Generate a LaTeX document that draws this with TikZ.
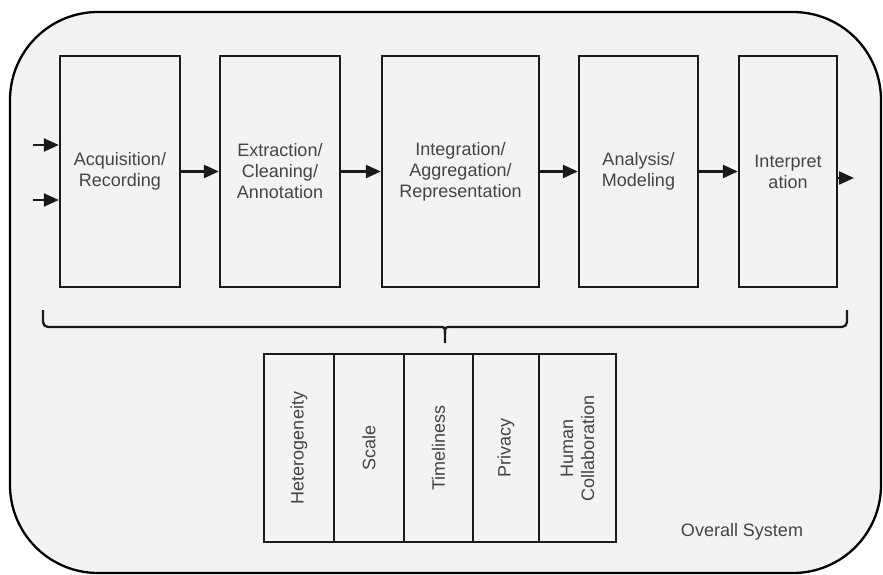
\documentclass[tikz,border=0pt]{standalone}
\usepackage{fontspec}
\setmainfont{Liberation Sans}
\usetikzlibrary{arrows.meta}
\definecolor{panel}{HTML}{F3F3F3}
\definecolor{boxline}{HTML}{1A1A1A}
\definecolor{label}{HTML}{444444}
\begin{document}
\begin{tikzpicture}[x=1pt,y=-1pt,
  stage/.style={draw=boxline, line width=2.3pt, fill=panel, text=label,
    align=center, minimum height=231pt, inner sep=0pt,
    font=\fontsize{18}{21}\selectfont},
  issue/.style={draw=boxline, line width=2.3pt, fill=panel, text=label,
    align=center, rotate=90, minimum width=188pt, inner sep=0pt,
    font=\fontsize{18}{21}\selectfont},
  flow/.style={draw=boxline, line width=2.3pt,
    -{Triangle[length=15pt,width=13pt]}},
  brace/.style={draw=boxline, line width=2.3pt}]

% page and overall system frame
\fill[white] (0,0) rectangle (883,575);
\useasboundingbox (0,0) rectangle (883,575);
\draw[line width=2.3pt, fill=panel, rounded corners=88pt] (10,12) rectangle (881,573);

% pipeline stages
\node[stage, minimum width=120pt] (s1) at (120,171.5) {Acquisition/\\Recording};
\node[stage, minimum width=120pt] (s2) at (280,171.5) {Extraction/\\Cleaning/\\Annotation};
\node[stage, minimum width=157pt] (s3) at (460.5,171.5) {Integration/\\Aggregation/\\Representation};
\node[stage, minimum width=119pt] (s4) at (638.5,171.5) {Analysis/\\Modeling};
\node[stage, minimum width=98pt]  (s5) at (788,171.5) {Interpret\\ation};

% inputs, stage links and output
\coordinate (in1) at (33,145);
\coordinate (in2) at (33,200);
\coordinate (out) at (854,178);
\draw[flow] (in1) -- (in1 -| s1.west);
\draw[flow] (in2) -- (in2 -| s1.west);
\draw[flow] (s1.east) -- (s2.west);
\draw[flow] (s2.east) -- (s3.west);
\draw[flow] (s3.east) -- (s4.west);
\draw[flow] (s4.east) -- (s5.west);
\draw[flow] (s5.east |- out) -- (out);

% brace over the whole pipeline
\coordinate (bl) at (43,310);
\coordinate (br) at (847,310);
\coordinate (bm) at (445,343);
\draw[brace, rounded corners=5pt] (bl) -- (43,327) -- (439,327);
\draw[brace] (439,327) .. controls (445,327) .. (445,334) -- (bm);
\draw[brace] (451,327) .. controls (445,327) .. (445,334);
\draw[brace, rounded corners=5pt] (451,327) -- (847,327) -- (br);

% challenges shared by all stages
\node[issue, minimum height=70pt] (c1) at (299,448) {Heterogeneity};
\node[issue, minimum height=70pt] (c2) at (369,448) {Scale};
\node[issue, minimum height=69pt] (c3) at (438.5,448) {Timeliness};
\node[issue, minimum height=66pt] (c4) at (506,448) {Privacy};
\node[issue, minimum height=77pt] (c5) at (577.5,448) {Human\\Collaboration};

\node[text=label, font=\fontsize{18}{21}\selectfont] (sys) at (742,532) {Overall System};
\end{tikzpicture}
\end{document}
